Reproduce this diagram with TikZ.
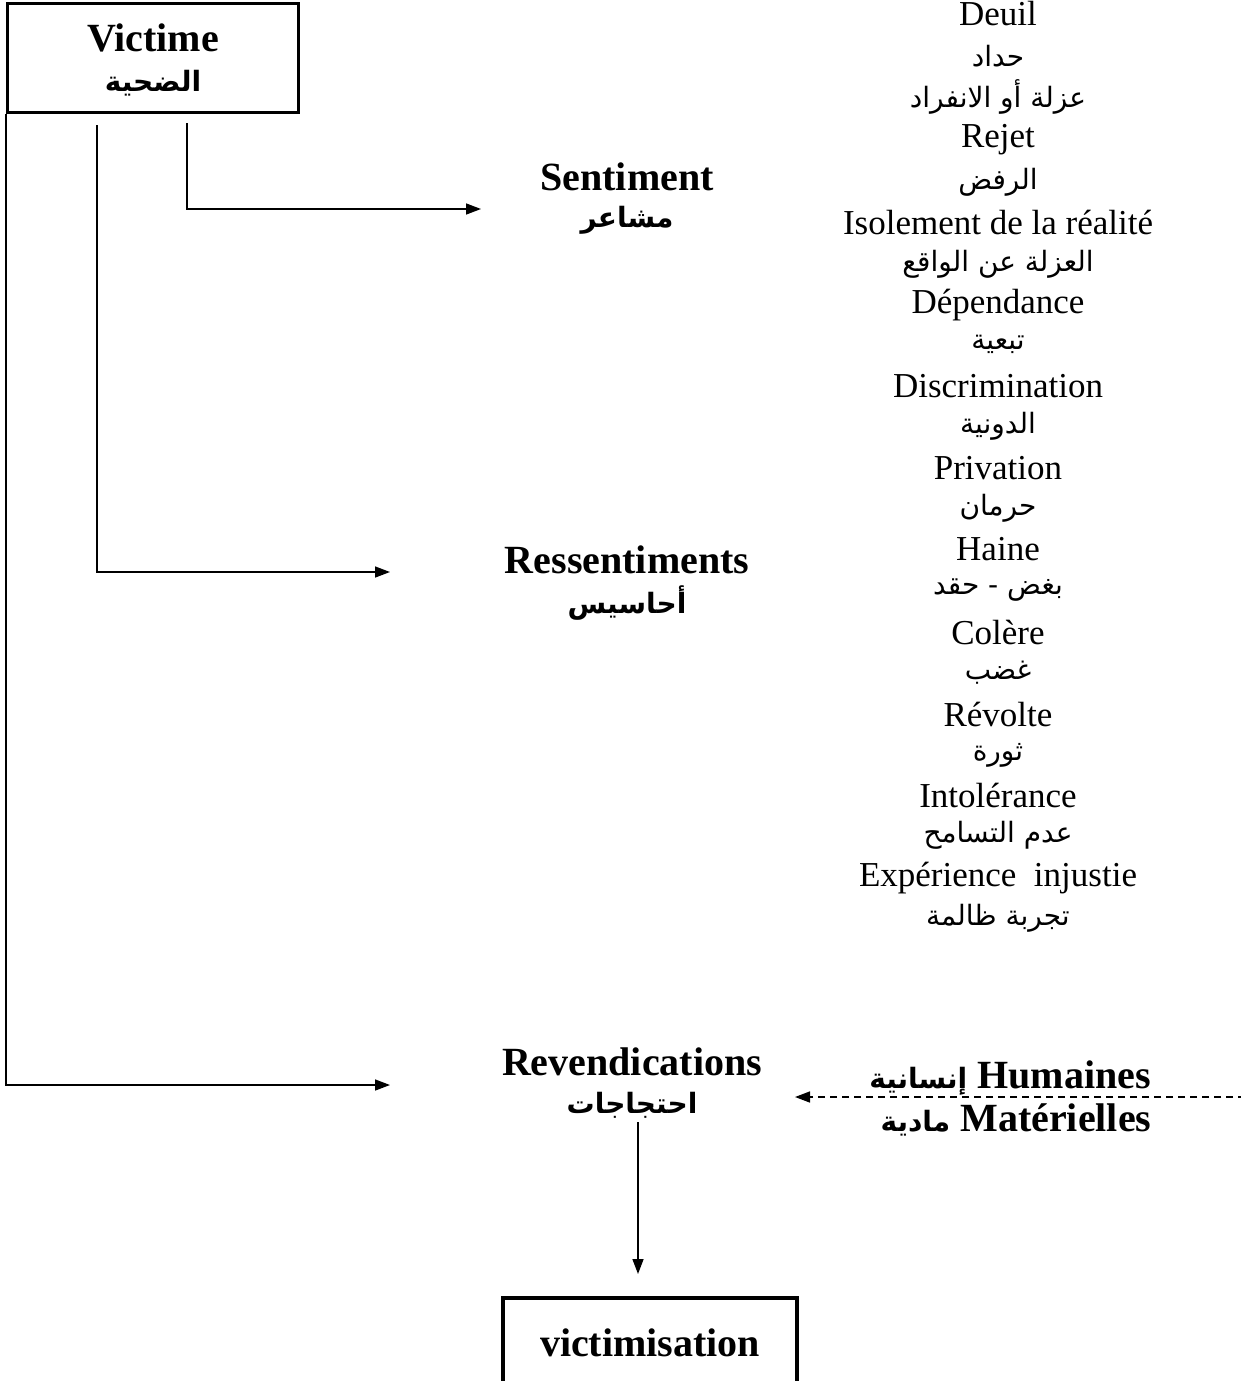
\documentclass[tikz,border=0pt]{standalone}
\usepackage{fontspec}
\setmainfont{Liberation Serif}
\newfontfamily\arabicfont[Script=Arabic]{DejaVu Sans}
\TeXXeTstate=1
\usetikzlibrary{arrows.meta}
\newcommand{\arb}[1]{{\arabicfont\beginR #1\endR}}
\newcommand{\arbsmall}[1]{{\fontsize{28}{30}\selectfont\arabicfont\beginR #1\endR}}
\tikzstyle{box} = [draw, line width=3.5pt, align=center, inner sep=0pt]
\tikzstyle{head} = [font=\bfseries\fontsize{40}{45}\selectfont, inner sep=0pt]
\tikzstyle{headar} = [font=\bfseries\arabicfont\fontsize{28}{32}\selectfont, inner sep=0pt]
\tikzstyle{item} = [font=\fontsize{35}{40}\selectfont, inner sep=0pt]
\tikzstyle{itemar} = [font=\arabicfont\fontsize{28}{32}\selectfont, inner sep=0pt]
\tikzstyle{arr} = [line width=1.5pt, -{Triangle[length=15pt,width=11pt]}]

\begin{document}
\begin{tikzpicture}[x=1pt,y=-1pt]
	  \useasboundingbox (0,0) rectangle (1241,1381);
	  \clip (0,0) rectangle (1241,1381);

	  \node (vic) at (153,58) [box, minimum width=291, minimum height=109] {};
	  \node (victxt) at (153,38) [head] {Victime};
	  \node (vicar) at (153,83) [headar] {\arb{الضحية}};

	  \node (sent) at (627,177) [head] {Sentiment};
	  \node (sentar) at (627,220) [headar] {\arb{مشاعر}};
	  \node (ress) at (627,560) [head] {Ressentiments};
	  \node (ressar) at (627,603) [headar] {\arb{أحاسيس}};
	  \node (rev) at (632,1062) [head] {Revendications};
	  \node (revar) at (632,1105) [headar] {\arb{احتجاجات}};

	  \node (hum) at (1010,1078) [head] {\arbsmall{إنسانية} Humaines};
	  \node (mat) at (1016,1120) [head] {\arbsmall{مادية} Matérielles};

	  \node (vict) at (650,1296) [box, anchor=north, minimum width=294, text height=32pt, text depth=150pt, inner ysep=27pt, font=\bfseries\fontsize{40}{45}\selectfont] {victimisation};

	  \node (i1) at (998,14) [item] {Deuil};
	  \node (i2) at (998,56) [itemar] {\arb{حداد}};
	  \node (i3) at (998,97) [itemar] {\arb{عزلة أو الانفراد}};
	  \node (i4) at (998,140) [item] {Rejet};
	  \node (i5) at (998,182) [itemar] {\arb{الرفض}};
	  \node (i6) at (998,223) [item] {Isolement de la réalité};
	  \node (i7) at (998,264) [itemar] {\arb{العزلة عن الواقع}};
	  \node (i8) at (998,305) [item] {Dépendance};
	  \node (i9) at (998,344) [itemar] {\arb{تبعية}};
	  \node (i10) at (998,386) [item] {Discrimination};
	  \node (i11) at (998,426) [itemar] {\arb{الدونية}};
	  \node (i12) at (998,468) [item] {Privation};
	  \node (i13) at (998,508) [itemar] {\arb{حرمان}};
	  \node (i14) at (998,549) [item] {Haine};
	  \node (i15) at (998,590) [itemar] {\arb{بغض - حقد}};
	  \node (i16) at (998,632) [item] {Colère};
	  \node (i17) at (998,673) [itemar] {\arb{غضب}};
	  \node (i18) at (998,714) [item] {Révolte};
	  \node (i19) at (998,755) [itemar] {\arb{ثورة}};
	  \node (i20) at (998,795) [item] {Intolérance};
	  \node (i21) at (998,835) [itemar] {\arb{عدم التسامح}};
	  \node (i22) at (998,878) [item] {Expérience\ \ injustie};
	  \node (i23) at (998,918) [itemar] {\arb{تجربة ظالمة}};

	  \coordinate (s1) at (187,123);
	  \coordinate (t1) at (481,209);
	  \coordinate (s2) at (97,125);
	  \coordinate (t2) at (390,572);
	  \coordinate (t3) at (390,1085);
	  \coordinate (s4) at (638,1122);
	  \coordinate (t4) at (638,1274);
	  \coordinate (s5) at (1245,1097);
	  \coordinate (t5) at (795,1097);

	  \draw [arr] (s1) |- (t1);
	  \draw [arr] (s2) |- (t2);
	  \draw [arr] (vic.south west) |- (t3);
	  \draw [arr] (s4) -- (t4);
	  \draw [arr, dash pattern=on 7pt off 5pt] (s5) -- (t5);
	\end{tikzpicture}
\end{document}
